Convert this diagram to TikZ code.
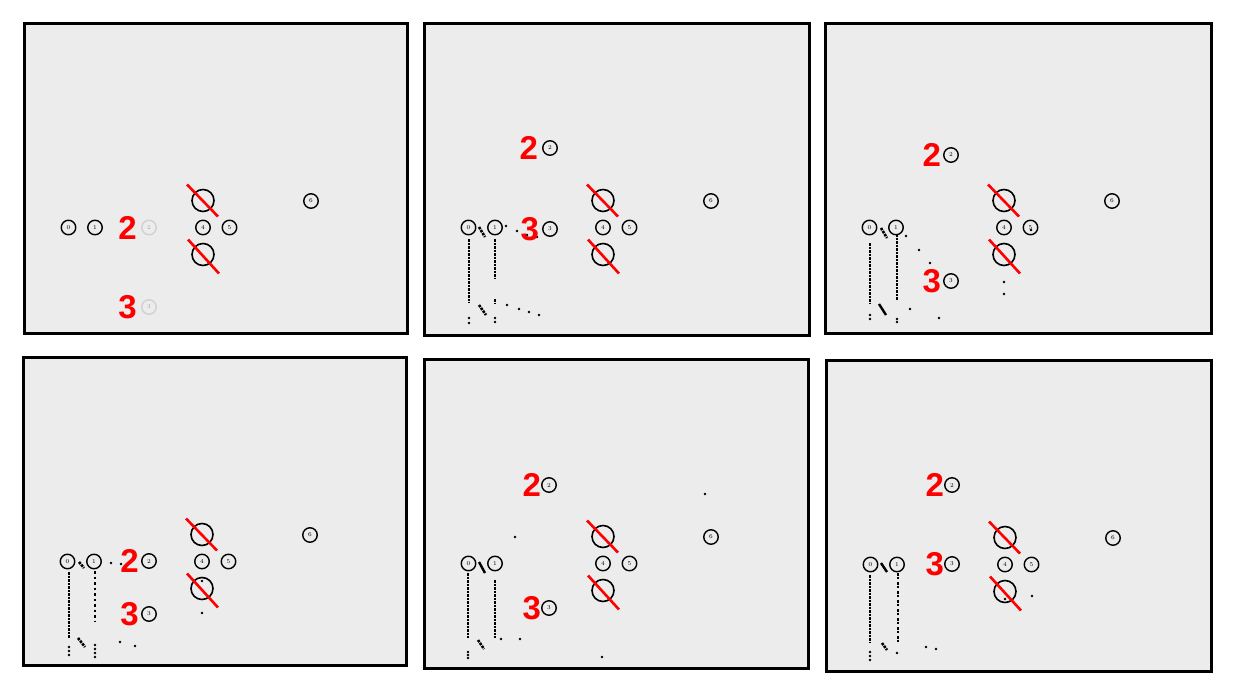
\documentclass[tikz,border=0pt]{standalone}
\usepackage{fontspec}
\newfontfamily\digitfont{Liberation Sans}
\usetikzlibrary{positioning}

\begin{document}
\begin{tikzpicture}[x=1pt,y=-1pt,
    cell/.style={circle,draw,line width=1.4pt,minimum size=14.5pt,inner sep=0pt,font=\fontsize{6}{6}\selectfont},
    ghost/.style={cell,draw=black!18,text=black!35},
    hole/.style={circle,draw,line width=1.6pt,minimum size=22pt,inner sep=0pt},
    cross/.style={red,line width=2.6pt},
    tag/.style={red,inner sep=0pt,font=\digitfont\bfseries\fontsize{33}{33}\selectfont},
    trail/.style={line width=2.6pt,dash pattern=on 2.5pt off 1pt},
    panel/.style={draw,line width=3pt,fill=black!7.5}]

    \useasboundingbox (0,0) rectangle (1235,694);

    % the six frames with what stays the same in all of them
    \foreach \px/\py/\w/\h in {24/23/383/310, 424/23/385/312, 825/23/386/310,
                               23/357/383/308, 424/359/384/309, 826/360/385/311} {
        \begin{scope}[shift={(\px,\py)}]
            \draw[panel] (0,0) rectangle (\w,\h);
            \node[cell] (n0) at (44.5,204.5) {0};
            \node[cell] (n1) at (71,204.5) {1};
            \node[cell] (n4) at (179,204.5) {4};
            \node[cell] (n5) at (205.5,204.5) {5};
            \node[cell] (n6) at (287,178) {6};
            \node[hole] (up) at (179,177.5) {};
            \node[hole] (down) at (179,231.5) {};
            \draw[cross] (up.center) ++(-16,-16) -- ++(31,32);
            \draw[cross] (down.center) ++(-15,-15) -- ++(31,34);
        \end{scope}
    }

    % panel 1: 2 and 3 still grey
    \begin{scope}[shift={(24,23)}]
        \node[ghost] (n2) at (125,204.5) {2};
        \node[ghost] (n3) at (125,284) {3};
        \node[tag,left=4pt of n2] (t2) {2};
        \node[tag,left=4pt of n3] (t3) {3};
    \end{scope}

    % panel 2
    \begin{scope}[shift={(424,23)}]
        \draw[trail] (45,216) -- (45,280);
        \draw[trail] (71,216) -- (71,255);
        \draw[trail] (71,276) -- (71,280);
        \draw[trail] (55,204) -- (61,214);
        \draw[trail] (55,282) -- (62,292);
        \foreach \p in {(45,295),(45,300),(71,295),(71,299),(83,282),(95,286),(105,289),
                        (115,292),(82,203),(93,208),(103,212),(113,214)}
            \fill \p circle (1.4);
        \node[cell] (n2) at (126,125) {2};
        \node[cell] (n3) at (126,206) {3};
        \node[tag,left=4pt of n2] (t2) {2};
        \node[tag,left=3pt of n3] (t3) {3};
    \end{scope}

    % panel 3
    \begin{scope}[shift={(825,23)}]
        \draw[trail] (45,220) -- (45,280);
        \draw[trail] (72,211) -- (72,277);
        \draw[trail] (56,205) -- (62,215);
        \draw[line width=2.4pt] (54,281) -- (61,292);
        \foreach \p in {(45,292),(45,296),(72,296),(72,299),(81,213),(94,227),(105,240),
                        (85,286),(114,295),(179,259),(179,271),(206,207)}
            \fill \p circle (1.4);
        \node[cell] (n2) at (126,132) {2};
        \node[cell] (n3) at (126,258) {3};
        \node[tag,left=2pt of n2] (t2) {2};
        \node[tag,left=2pt of n3] (t3) {3};
    \end{scope}

    % panel 4
    \begin{scope}[shift={(23,357)}]
        \draw[trail] (46,215) -- (46,281);
        \draw[trail,dash pattern=on 2.5pt off 3pt] (72,214) -- (72,265);
        \draw[trail] (56,205) -- (61,211);
        \draw[trail] (55,281) -- (62,290);
        \foreach \p in {(46,290),(46,294),(46,298),(72,288),(72,292),(72,296),(72,300),
                        (97,285),(112,289),(88,206),(98,207),(179,224),(179,256)}
            \fill \p circle (1.4);
        \node[cell] (n2) at (126,204) {2};
        \node[cell] (n3) at (126,257) {3};
        \node[tag,left=2pt of n2] (t2) {2};
        \node[tag,left=2pt of n3] (t3) {3};
    \end{scope}

    % panel 5
    \begin{scope}[shift={(424,359)}]
        \draw[trail] (44,214) -- (44,279);
        \draw[trail] (71,221) -- (71,279);
        \draw[line width=2.4pt] (55,203) -- (61,214);
        \draw[trail] (54,281) -- (60,290);
        \foreach \p in {(44,293),(44,296),(44,299),(77,280),(96,280),(91,178),(281,135),(178,298)}
            \fill \p circle (1.4);
        \node[cell] (n2) at (125,126) {2};
        \node[cell] (n3) at (125,249) {3};
        \node[tag,left=0pt of n2] (t2) {2};
        \node[tag,left=0pt of n3] (t3) {3};
    \end{scope}

    % panel 6
    \begin{scope}[shift={(826,360)}]
        \draw[trail] (44,215) -- (44,282);
        \draw[trail,dash pattern=on 2.5pt off 1pt on 2.5pt off 3pt] (72,213) -- (72,282);
        \draw[line width=2.4pt] (55,203) -- (61,212);
        \draw[trail] (56,283) -- (61,290);
        \foreach \p in {(44,292),(44,296),(44,300),(71,293),(100,287),(110,289),(206,236),(179,239)}
            \fill \p circle (1.4);
        \node[cell] (n2) at (126,125) {2};
        \node[cell] (n3) at (126,204) {3};
        \node[tag,left=0pt of n2] (t2) {2};
        \node[tag,left=0pt of n3] (t3) {3};
    \end{scope}
\end{tikzpicture}
\end{document}
